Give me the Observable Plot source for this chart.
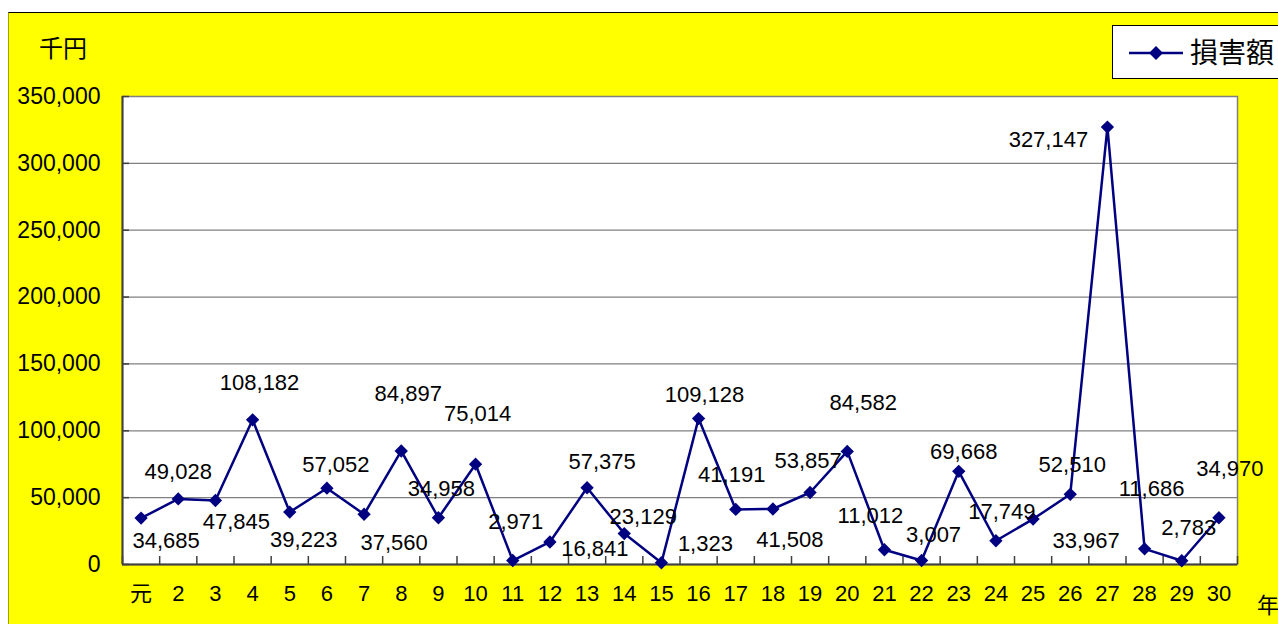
<!DOCTYPE html>
<html>
<head>
<meta charset="utf-8">
<script src="https://cdn.jsdelivr.net/npm/d3@7"></script>
<script src="https://cdn.jsdelivr.net/npm/@observablehq/plot@0.6"></script>
<style>
  html, body { margin: 0; padding: 0; background: #ffffff; }
  #wrap { position: relative; width: 1278px; height: 624px; overflow: hidden;
          font-family: "Liberation Sans", "Noto Sans CJK JP", sans-serif; }
  #panel { position: absolute; left: 8px; top: 12px; right: 0; bottom: 0;
           background: #ffff00; border-top: 1px solid #000; border-left: 1px solid #a0a000; }
  #chart { position: absolute; left: 0; top: 0; }
  .lbl { position: absolute; color: #000; white-space: nowrap;
         font-family: "Noto Sans CJK JP", sans-serif; line-height: 1; }
  #legend { position: absolute; left: 1112px; top: 25px; width: 200px; height: 54px;
            background: #fff; border: 1px solid #000; box-sizing: border-box; }
  #legend svg { position: absolute; left: 16px; top: 17px; }
  #legend span { position: absolute; left: 77px; top: 11px; font-size: 28px; line-height: 1;
                 font-family: "Noto Sans CJK JP", sans-serif; }
</style>
</head>
<body>
<div id="wrap">
  <div id="panel"></div>
  <div id="chart"></div>
  <div class="lbl" style="left:39px; top:35px; font-size:24px;">千円</div>
  <div class="lbl" style="left:1257px; top:592px; font-size:22px;">年</div>
  <div id="legend">
    <svg width="54" height="20"><line x1="0" y1="10" x2="54" y2="10" stroke="#000080" stroke-width="2.5"/><path d="M27,3 L34,10 L27,17 L20,10 Z" fill="#000080"/></svg>
    <span>損害額</span>
  </div>
</div>
<script>
// Categories (years, 元 = first year of the era)
const years = ["元","2","3","4","5","6","7","8","9","10","11","12","13","14","15",
               "16","17","18","19","20","21","22","23","24","25","26","27","28","29","30"];
// 損害額 (千円)
const damage = [34685, 49028, 47845, 108182, 39223, 57052, 37560, 84897, 34958, 75014,
                2971, 16841, 57375, 23129, 1323, 109128, 41191, 41508, 53857, 84582,
                11012, 3007, 69668, 17749, 33967, 52510, 327147, 11686, 2783, 34970];
// Y axis tick values
const yTicks = [0, 50000, 100000, 150000, 200000, 250000, 300000, 350000];
// Label placement (pixel offsets of each data label from its point) — style only
const labelOffsets = [[25,23],[0,-27],[21,21],[7,-37],[14,28],[9,-23],[30,29],[7,-57],[3,-29],[2,-50],
                      [3,-39],[45,7],[15,-26],[19,-17],[44,-19],[6,-24],[-4,-34],[17,31],[-2,-32],[16,-48],
                      [-14,-34],[12,-26],[5,-19],[6,-29],[53,22],[2,-29],[-59,13],[7,-60],[7,-33],[11,-49]];

const data = years.map((y, i) => ({idx: i + 1, year: y, value: damage[i]}));
const boundaries = years.map((y, i) => i + 0.5).concat([years.length + 0.5]);
const fmt = d3.format(",");
const navy = "#000080";

const labelMarks = data.map((d, i) => Plot.text([d], {
  x: "idx", y: "value", text: dd => fmt(dd.value),
  dx: labelOffsets[i][0], dy: labelOffsets[i][1],
  fontSize: 22, fill: "#000", textAnchor: "middle", lineAnchor: "middle"
}));

const chart = Plot.plot({
  width: 1278,
  height: 624,
  marginLeft: 122,
  marginRight: 41,
  marginTop: 96,
  marginBottom: 60,
  style: {background: "none", fontFamily: '"Liberation Sans", "Noto Sans CJK JP", sans-serif', color: "#000", overflow: "visible"},
  x: {type: "linear", domain: [0.5, years.length + 0.5], label: null},
  y: {domain: [0, 350000], label: null},
  marks: [
    Plot.frame({fill: "white", stroke: "#808080", strokeWidth: 1.5}),
    Plot.ruleY(yTicks, {stroke: "#808080", strokeWidth: 1.2}),
    Plot.ruleY(yTicks, {stroke: "#404040", strokeWidth: 1.5, insetRight: 1108}),
    Plot.ruleX(boundaries, {stroke: "#404040", strokeWidth: 1.5, insetTop: 460}),
    Plot.ruleX([0.5], {stroke: "#404040", strokeWidth: 2}),
    Plot.ruleY([0], {stroke: "#404040", strokeWidth: 2}),
    Plot.axisY({ticks: yTicks, tickFormat: fmt, tickSize: 0, tickPadding: 22, fontSize: 23, label: null}),
    Plot.axisX({ticks: data.map(d => d.idx), tickFormat: i => years[i - 1], tickSize: 0, tickPadding: 21, fontSize: 22, label: null}),
    Plot.line(data, {x: "idx", y: "value", stroke: navy, strokeWidth: 2.5}),
    Plot.dot(data, {x: "idx", y: "value", symbol: "diamond2", r: 6, fill: navy, stroke: null}),
    ...labelMarks
  ]
});
document.getElementById("chart").appendChild(chart);
</script>
</body>
</html>
